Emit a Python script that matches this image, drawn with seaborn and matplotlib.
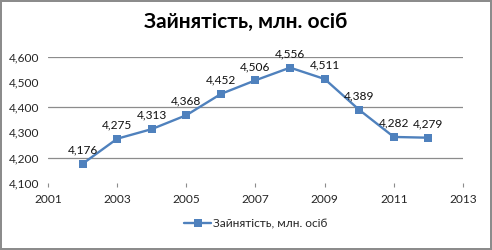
import matplotlib
matplotlib.use("Agg")
import matplotlib.pyplot as plt
import seaborn as sns
import pandas as pd

years = [2002, 2003, 2004, 2005, 2006, 2007, 2008, 2009, 2010, 2011, 2012]
values = [4176, 4275, 4313, 4368, 4452, 4506, 4556, 4511, 4389, 4282, 4279]
series_name = "Зайнятість, млн. осіб"
title = "Зайнятість, млн. осіб"
x_ticks = [2001, 2003, 2005, 2007, 2009, 2011, 2013]
y_ticks = [4100, 4200, 4300, 4400, 4500, 4600]
grid_vals = [4200, 4400, 4600]

sns.set_theme(style="white")
plt.rcParams['font.family'] = ['Lato', 'DejaVu Sans']

df = pd.DataFrame({"year": years, "value": values})

fig = plt.figure(figsize=(4.92, 2.5), dpi=100)
fig.patch.set_edgecolor("#8c8c8c")
fig.patch.set_linewidth(1.5)
ax = fig.add_axes([48/492, 1-183/250, (463-48)/492, (183-56.5)/250])

color = "#4F81BD"
sns.lineplot(data=df, x="year", y="value", ax=ax, color=color, linewidth=1.7,
             marker="s", markersize=5.5, markeredgewidth=0, label=series_name)

for g in grid_vals:
    ax.axhline(g, color="#8c8c8c", linewidth=0.9, zorder=0)

fs = 8.6
for x, y in zip(years, values):
    ax.annotate(f"{y:,}", (x, y), xytext=(0, 6), textcoords="offset points",
                ha="center", va="bottom", fontsize=fs, color="#111111")

ax.set_xlim(2001, 2013)
ax.set_ylim(4100, 4600)
ax.set_xticks(x_ticks)
ax.set_yticks(y_ticks)
ax.set_yticklabels([f"{v:,}" for v in y_ticks])
ax.tick_params(axis="x", length=3, width=0.8, color="#8c8c8c", direction="out",
               labelsize=fs, pad=5, bottom=True)
ax.tick_params(axis="y", length=0, labelsize=fs, pad=6)
for s in ax.spines.values():
    s.set_visible(False)
ax.set_xlabel("")
ax.set_ylabel("")

ax.legend(loc="upper center", bbox_to_anchor=(0.5, -0.24), frameon=False,
          fontsize=fs, handlelength=2.3, handletextpad=0.1, borderaxespad=0)

fig.text(0.5, 1-22/250, title, ha="center", va="center", fontsize=15,
         fontweight="bold", color="black")

fig.savefig("out.png", dpi=100, edgecolor=fig.get_edgecolor())
